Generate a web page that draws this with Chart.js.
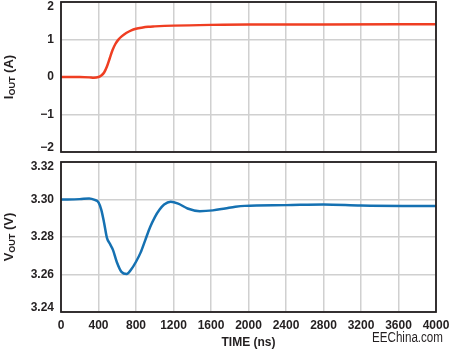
<!DOCTYPE html>
<html>
<head>
<meta charset="utf-8">
<script src="https://cdn.jsdelivr.net/npm/chart.js@4.4.0/dist/chart.umd.min.js"></script>
<style>
  html, body { margin:0; padding:0; background:#fff; }
  #wrap { position:relative; width:450px; height:351px; overflow:hidden; }
  #wrap canvas { position:absolute; left:0; top:0; }
</style>
</head>
<body>
<div id="wrap">
  <canvas id="cTop" width="450" height="351"></canvas>
  <canvas id="cBot" width="450" height="351"></canvas>
</div>
<script>
// ---------- Data ----------
const timeTicks = [0, 400, 800, 1200, 1600, 2000, 2400, 2800, 3200, 3600, 4000];
const iTicks    = [-2, -1, 0, 1, 2];
const vTicks    = [3.24, 3.26, 3.28, 3.30, 3.32];

const iTime = [0, 200, 300, 350, 400, 430, 460, 490, 520, 550, 580, 610, 650, 700, 750, 800, 860, 930, 1000, 1200, 1600, 2000, 2800, 4000];
const iOut  = [0, 0, -0.01, -0.02, 0, 0.04, 0.12, 0.28, 0.5, 0.72, 0.88, 0.99, 1.09, 1.18, 1.245, 1.285, 1.315, 1.34, 1.35, 1.37, 1.39, 1.4, 1.4, 1.41];

const vTime = [0, 200, 300, 360, 400, 430, 460, 490, 520, 555, 595, 645, 700, 750, 800, 850, 900, 950, 1000, 1050, 1100, 1170, 1250, 1350, 1480, 1620, 1750, 1860, 1960, 2400, 2800, 3200, 4000];
const vOut  = [3.300, 3.3002, 3.3006, 3.2998, 3.2985, 3.2945, 3.2875, 3.2795, 3.2765, 3.273, 3.2667, 3.2614, 3.2603, 3.2628, 3.2668, 3.2718, 3.2785, 3.2852, 3.2905, 3.2945, 3.2973, 3.2988, 3.2978, 3.2952, 3.2938, 3.2942, 3.2952, 3.2961, 3.2966, 3.297, 3.2974, 3.2968, 3.2965];

const INK  = '#231f20';
const GRID = '#d0d0d0';
const FONT = '"Liberation Sans", Arial, sans-serif';

const pts = (xs, ys) => xs.map((x, i) => ({ x, y: ys[i] }));

// ---------- Plugins ----------
// black frame round the plot + rotated y title with subscript
const framePlugin = {
  id: 'frame',
  afterDraw(chart, args, o) {
    const { ctx, chartArea: a } = chart;
    ctx.save();
    ctx.strokeStyle = INK;
    ctx.lineWidth = 1.8;
    ctx.strokeRect(a.left, a.top, a.right - a.left, a.bottom - a.top);

    // y title, rotated
    const cy = (a.top + a.bottom) / 2;
    ctx.translate(9, cy);
    ctx.rotate(-Math.PI / 2);
    ctx.fillStyle = INK;
    ctx.textBaseline = 'middle';
    const big = 'bold 13px ' + FONT, small = 'bold 9px ' + FONT;
    ctx.font = big;   const w1 = ctx.measureText(o.main).width;
    const w3 = ctx.measureText(o.unit).width;
    ctx.font = small; const w2 = ctx.measureText('OUT').width;
    let x = -(w1 + w2 + w3) / 2;
    ctx.font = big;   ctx.fillText(o.main, x, 0); x += w1;
    ctx.font = small; ctx.fillText('OUT', x, 3.5); x += w2;
    ctx.font = big;   ctx.fillText(o.unit, x, 0);
    ctx.restore();

    if (o.mark) {
      ctx.save();
      ctx.fillStyle = INK;
      ctx.font = '14px ' + FONT;
      ctx.textBaseline = 'alphabetic';
      ctx.fillText(o.mark, 372, 342, 71);
      ctx.restore();
    }
  }
};

function xScale(showTicks) {
  return {
    type: 'linear', min: 0, max: 4000,
    afterBuildTicks: s => { s.ticks = timeTicks.map(v => ({ value: v })); },
    afterFit: s => { s.height = showTicks ? 39 : 0; s.paddingLeft = s.paddingRight = 0; },
    grid: { color: GRID, lineWidth: 1.5, drawTicks: false },
    border: { display: false },
    ticks: { display: showTicks, color: INK, padding: 6, maxRotation: 0,
             callback: v => String(v),
             font: { family: FONT, size: 12, weight: 'bold' } },
    title: { display: showTicks, text: 'TIME (ns)', color: INK,
             font: { family: FONT, size: 12, weight: 'bold' }, padding: { top: 0, bottom: 1 } }
  };
}

// end labels sit a little inside the frame, as in the original: pad them with an empty line
function yScale(min, max, ticks, fmt) {
  return {
    type: 'linear', min, max,
    afterBuildTicks: s => { s.ticks = ticks.map(v => ({ value: v })); },
    afterFit: s => { s.width = 61; s.paddingTop = 0; s.paddingBottom = 0; },
    grid: { color: GRID, lineWidth: 1.5, drawTicks: false },
    border: { display: false },
    ticks: {
      color: INK, padding: 7,
      callback: (v, i, arr) => {
        const t = fmt(v);
        if (i === arr.length - 1) return ['', t];
        if (i === 0) return [t, ''];
        return t;
      },
      font: { family: FONT, size: 12, weight: 'bold', lineHeight: 0.75 }
    }
  };
}

function makeChart(canvas, data, color, yOpts, xOpts, pad, frame) {
  return new Chart(canvas, {
    type: 'line',
    data: { datasets: [{ data, borderColor: color, borderWidth: 2.5, pointRadius: 0,
                         cubicInterpolationMode: 'monotone', fill: false }] },
    options: {
      responsive: false, animation: false, events: [],
      layout: { padding: pad },
      plugins: { legend: { display: false }, tooltip: { enabled: false }, frame },
      scales: { x: xOpts, y: yOpts }
    },
    plugins: [framePlugin]
  });
}

makeChart($('cTop'), pts(iTime, iOut), '#ef3e22',
  yScale(-2, 2, iTicks, v => v < 0 ? '\u2212' + Math.abs(v) : String(v)),
  xScale(false),
  { left: 0, right: 14, top: 2, bottom: 199 },
  { main: 'I', unit: ' (A)' });

makeChart($('cBot'), pts(vTime, vOut), '#1571b2',
  yScale(3.24, 3.32, vTicks, v => v.toFixed(2)),
  xScale(true),
  { left: 0, right: 14, top: 162, bottom: 0 },
  { main: 'V', unit: ' (V)', mark: 'EEChina.com' });

function $(id) { return document.getElementById(id); }
</script>
</body>
</html>
